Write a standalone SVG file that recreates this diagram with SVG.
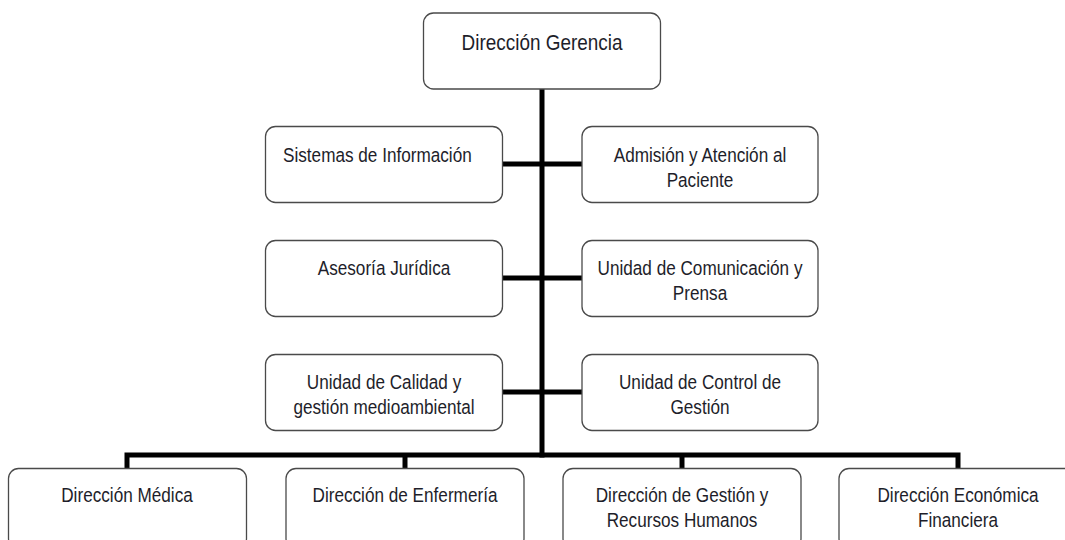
<svg xmlns="http://www.w3.org/2000/svg" width="1065" height="540" viewBox="0 0 1065 540">
<style>
.box{fill:#fff;stroke:#4a4a4a;stroke-width:1.3}
.ln{stroke:#000;stroke-width:5;fill:none;stroke-linecap:butt}
.t{font-family:"Liberation Sans",Arial,sans-serif;font-size:19.5px;fill:#1e1e2a;text-anchor:middle}
.tt{font-size:21.5px}
.l{text-anchor:start}
</style>
<rect width="1065" height="540" fill="#fff"/>
<g id="connectors">
<line class="ln" x1="542" y1="89" x2="542" y2="457.5"/>
<line class="ln" x1="503" y1="164" x2="582" y2="164"/>
<line class="ln" x1="503" y1="278" x2="582" y2="278"/>
<line class="ln" x1="503" y1="392" x2="582" y2="392"/>
<polyline class="ln" points="127,468 127,455 958,455 958,468"/>
<line class="ln" x1="405" y1="455" x2="405" y2="468"/>
<line class="ln" x1="682" y1="455" x2="682" y2="468"/>
</g>
<g id="n-gerencia">
<rect class="box" x="423.5" y="13" width="237" height="76" rx="10"/>
<text class="t tt" transform="translate(542 0) scale(0.88 1)" x="0" y="50">Dirección Gerencia</text>
</g>
<g id="n-sistemas">
<rect class="box" x="265.5" y="126.5" width="237" height="76" rx="10"/>
<text class="t l" transform="translate(283 0) scale(0.88 1)" x="0" y="162">Sistemas de Información</text>
</g>
<g id="n-admision">
<rect class="box" x="582" y="126.5" width="236" height="76" rx="10"/>
<text class="t" transform="translate(700 0) scale(0.88 1)" x="0" y="162">Admisión y Atención al</text>
<text class="t" transform="translate(700 0) scale(0.88 1)" x="0" y="187">Paciente</text>
</g>
<g id="n-asesoria">
<rect class="box" x="265.5" y="240.5" width="237" height="76" rx="10"/>
<text class="t" transform="translate(384 0) scale(0.88 1)" x="0" y="275">Asesoría Jurídica</text>
</g>
<g id="n-comunicacion">
<rect class="box" x="582" y="240.5" width="236" height="76" rx="10"/>
<text class="t" transform="translate(700 0) scale(0.88 1)" x="0" y="275">Unidad de Comunicación y</text>
<text class="t" transform="translate(700 0) scale(0.88 1)" x="0" y="300">Prensa</text>
</g>
<g id="n-calidad">
<rect class="box" x="265.5" y="354.5" width="237" height="76" rx="10"/>
<text class="t" transform="translate(384 0) scale(0.88 1)" x="0" y="389">Unidad de Calidad y</text>
<text class="t" transform="translate(384 0) scale(0.88 1)" x="0" y="414">gestión medioambiental</text>
</g>
<g id="n-control">
<rect class="box" x="582" y="354.5" width="236" height="76" rx="10"/>
<text class="t" transform="translate(700 0) scale(0.88 1)" x="0" y="389">Unidad de Control de</text>
<text class="t" transform="translate(700 0) scale(0.88 1)" x="0" y="414">Gestión</text>
</g>
<g id="n-medica">
<rect class="box" x="8.5" y="468.5" width="238" height="80" rx="10"/>
<text class="t" transform="translate(127 0) scale(0.88 1)" x="0" y="502">Dirección Médica</text>
</g>
<g id="n-enfermeria">
<rect class="box" x="286" y="468.5" width="238" height="80" rx="10"/>
<text class="t" transform="translate(405 0) scale(0.88 1)" x="0" y="502">Dirección de Enfermería</text>
</g>
<g id="n-gestion">
<rect class="box" x="563" y="468.5" width="238" height="80" rx="10"/>
<text class="t" transform="translate(682 0) scale(0.88 1)" x="0" y="502">Dirección de Gestión y</text>
<text class="t" transform="translate(682 0) scale(0.88 1)" x="0" y="527">Recursos Humanos</text>
</g>
<g id="n-economica">
<rect class="box" x="839" y="468.5" width="238" height="80" rx="10"/>
<text class="t" transform="translate(958 0) scale(0.88 1)" x="0" y="502">Dirección Económica</text>
<text class="t" transform="translate(958 0) scale(0.88 1)" x="0" y="527">Financiera</text>
</g>
</svg>
